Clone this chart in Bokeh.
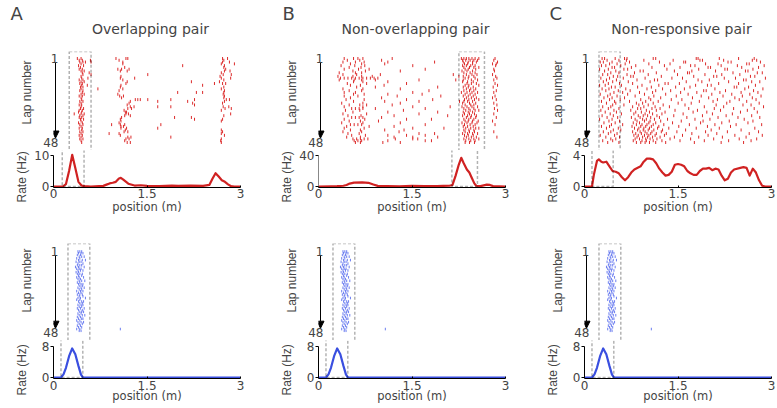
import numpy as np
from bokeh.plotting import figure
from bokeh.models import (Range1d, LinearAxis, FixedTicker, BoxAnnotation, Arrow,
                          NormalHead, Title, NumeralTickFormatter)
from bokeh.layouts import row, column
from bokeh.embed import file_html
from bokeh.resources import INLINE

# ---------------------------------------------------------------- data
N_LAPS = 48
TRACK_M = 3.0
lap_ticks = [1, 48]
x_ticks = [0, 1.5, 3]

panel_letters = ["A", "B", "C"]
panel_titles = ["Overlapping pair", "Non-overlapping pair", "Non-responsive pair"]
top_rate_max = [10, 40, 4]
bottom_rate_max = 8
top_windows = [(0.14, 0.49), (2.14, 2.55), (0.12, 0.46)]
bottom_window = (0.12, 0.47)

# rate maps: position (cm) and firing rate (Hz)
rate_pos_A = [0, 15, 20, 25, 30, 35, 40, 45, 50, 60, 80, 85, 90, 95, 100, 105, 108, 112, 120, 130,
              140, 150, 170, 190, 200, 220, 240, 250, 255, 260, 265, 270, 275, 280, 285, 290, 300]
rate_A = [0, 0, 0.8, 5.0, 10.2, 6.0, 1.5, 0.3, 0.1, 0, 0.2, 0.6, 1.0, 1.2, 1.5, 2.6, 2.8, 2.2, 0.9, 0.3,
          0.4, 0.2, 0.1, 0.3, 0.2, 0.3, 0.2, 0.5, 2.5, 4.3, 3.2, 2.0, 1.5, 0.7, 0.1, 0, 0]
rate_pos_B = [0, 20, 30, 40, 45, 50, 57, 70, 80, 88, 95, 110, 130, 150, 170, 190, 200, 210, 215, 220,
              225, 229, 233, 238, 242, 246, 250, 253, 260, 270, 275, 280, 290, 300]
rate_B = [0, 0.2, 0.4, 1.0, 2.0, 3.8, 5.0, 5.2, 4.8, 2.5, 0.8, 0.5, 0.3, 0.8, 0.5, 0.5, 0.8, 1.0, 2.0, 14,
          28, 37, 30, 22, 18, 11, 4, 1, 0.5, 2.5, 2.0, 0.5, 0.3, 0]
rate_pos_C = [0, 12, 15, 20, 23, 27, 30, 35, 40, 45, 50, 55, 60, 65, 70, 75, 80, 90, 95, 100,
              105, 110, 115, 120, 125, 130, 135, 140, 145, 150, 155, 160, 165, 170, 175, 180, 185, 190, 195, 200,
              205, 210, 215, 220, 225, 230, 235, 240, 250, 255, 260, 265, 270, 275, 280, 285, 290, 300]
rate_C = [0, 0, 1.5, 3.3, 3.5, 3.2, 3.1, 3.2, 2.6, 2.0, 1.9, 1.7, 1.2, 0.8, 1.2, 1.8, 2.2, 2.6, 3.2, 3.6,
          3.6, 3.5, 3.0, 2.3, 1.8, 1.4, 1.5, 1.9, 2.8, 2.9, 2.8, 2.6, 2.0, 1.7, 1.5, 1.5, 2.0, 2.3, 2.3, 2.4,
          2.1, 2.3, 2.2, 1.4, 0.8, 1.0, 1.8, 2.2, 2.4, 2.5, 2.4, 1.4, 2.3, 1.8, 0.8, 0.1, 0, 0]
rate_pos_ref = [0, 12, 16, 20, 25, 30, 35, 40, 44, 47, 300]
rate_ref = [0, 0, 0.8, 2.5, 5.5, 7.5, 6.0, 3.0, 0.8, 0, 0]

# spike positions (cm) on each lap, lap 1 first
spikes_A = [
    [27, 33, 89, 105, 108, 260, 268], [30, 35, 48, 94, 262], [31, 36, 40, 49, 100, 260, 271],
    [33, 100, 258, 279], [29, 37, 196, 263], [32, 103, 262], [30, 35, 92, 98, 110, 265],
    [33, 38, 96, 107, 263, 272], [35, 46, 258], [36, 49, 140, 261, 274], [33, 97, 256],
    [34, 44, 96, 119, 258, 273], [30, 36, 100, 262], [33, 38, 107, 210, 255],
    [31, 35, 105, 247, 260, 265], [34, 43, 97, 228], [32, 36, 96, 262], [33, 60, 100, 258],
    [31, 36, 94, 263], [35, 188, 218, 228, 262], [33, 38, 92, 261], [30, 35, 95, 101, 263],
    [33, 98, 262], [34, 120, 124, 128, 140, 177, 215, 266, 271], [31, 36, 112, 156, 204, 263],
    [33, 110, 212, 260], [30, 34, 107, 215], [33, 112, 118, 156, 177, 261, 270],
    [32, 37, 108, 114, 264, 274], [30, 35, 102, 258], [29, 34, 104, 106], [22, 33, 38, 105, 109, 273],
    [31, 36, 103, 112, 262], [30, 34, 98, 183, 210], [32, 37, 96, 215, 260], [33, 97, 258],
    [29, 35, 94], [31, 36, 82, 96, 103, 161], [33, 97, 101], [30, 35, 97, 106, 156],
    [34, 104, 258], [31, 36, 102, 108, 260], [33, 78, 94, 258], [30, 35, 96, 263],
    [33, 108, 113, 177], [31, 36, 105, 110, 258], [33, 103, 257], [34, 107, 112, 258],
]
spikes_B = [
    [30, 45, 52, 60, 107, 218, 222, 226, 230, 235, 240, 246, 272],
    [35, 55, 90, 220, 225, 232, 238, 244, 270],
    [28, 48, 62, 100, 175, 221, 229, 236, 242, 276],
    [40, 58, 95, 223, 228, 236, 268, 274],
    [25, 47, 63, 140, 220, 226, 233, 240, 273],
    [38, 57, 222, 231, 238, 246],
    [30, 53, 70, 160, 224, 229, 241, 270],
    [44, 64, 120, 219, 227, 236, 271],
    [22, 48, 58, 222, 232, 240],
    [28, 50, 88, 205, 226, 235, 243, 268],
    [20, 44, 58, 75, 214, 221, 230, 238, 273],
    [24, 30, 36, 42, 48, 54, 60, 66, 72, 78, 84, 224, 229, 240, 275],
    [22, 46, 58, 80, 150, 209, 221, 234, 244, 270],
    [45, 60, 100, 220, 228, 237],
    [35, 66, 130, 227, 234, 242, 272],
    [40, 56, 94, 224, 230, 246, 276],
    [50, 80, 180, 221, 229, 237, 269],
    [28, 60, 120, 226, 233, 241],
    [38, 58, 166, 222, 231, 238, 274],
    [30, 48, 140, 218, 227, 235, 244, 270],
    [45, 62, 100, 155, 224, 232, 240],
    [30, 52, 115, 185, 221, 229, 237, 272],
    [40, 90, 226, 234, 242, 268],
    [33, 62, 130, 172, 223, 230, 239, 246, 274],
    [45, 95, 150, 215, 222, 228, 236],
    [26, 60, 120, 220, 231, 241, 270],
    [38, 55, 66, 107, 224, 233, 238, 275],
    [30, 60, 140, 200, 219, 227, 235, 244],
    [42, 48, 54, 60, 80, 160, 222, 230, 238, 271],
    [32, 55, 125, 225, 232, 240, 246, 276],
    [44, 100, 180, 221, 229, 236],
    [28, 66, 150, 223, 231, 239, 270],
    [36, 57, 110, 196, 220, 228, 234, 242],
    [42, 48, 54, 60, 90, 226, 233, 241, 274],
    [30, 63, 130, 170, 222, 230, 238],
    [38, 56, 85, 224, 229, 236, 245, 268],
    [26, 60, 120, 219, 227, 235, 243],
    [40, 46, 52, 58, 160, 223, 232, 240, 272],
    [34, 70, 110, 221, 228, 237],
    [30, 62, 140, 190, 225, 233, 241, 246],
    [40, 56, 95, 126, 222, 230, 238],
    [28, 58, 118, 224, 231, 239, 270],
    [36, 54, 150, 175, 220, 228, 236, 244],
    [42, 64, 100, 130, 160, 223, 229, 237],
    [34, 56, 110, 140, 180, 226, 234, 242, 275],
    [44, 50, 56, 62, 68, 112, 140, 148, 222, 230, 238, 246],
    [46, 52, 58, 100, 160, 170, 225, 233, 240],
    [48, 56, 92, 120, 224, 231, 239],
]
spikes_C = [
    [17, 21, 38, 53, 57, 99, 103, 168, 171, 205, 236, 261],
    [25, 44, 56, 84, 131, 174, 178, 212, 258, 265],
    [14, 19, 33, 61, 109, 148, 151, 219, 224, 271],
    [29, 41, 54, 92, 126, 183, 203, 249, 253],
    [16, 23, 47, 71, 117, 159, 166, 208, 234, 277],
    [33, 37, 64, 97, 142, 187, 191, 241, 268],
    [13, 27, 52, 58, 121, 172, 214, 218, 259],
    [21, 39, 78, 83, 133, 161, 199, 247, 251],
    [31, 44, 69, 104, 154, 157, 227, 266, 274],
    [18, 26, 57, 91, 138, 182, 209, 238],
    [35, 42, 63, 67, 112, 164, 196, 201, 255, 262],
    [15, 29, 51, 86, 129, 146, 213, 231, 279],
    [24, 40, 73, 101, 106, 171, 189, 244, 248],
    [19, 34, 59, 94, 152, 177, 220, 257, 270],
    [27, 45, 66, 118, 123, 141, 204, 236],
    [13, 22, 48, 81, 108, 167, 186, 192, 263],
    [32, 38, 74, 96, 135, 158, 229, 233, 252],
    [17, 28, 55, 89, 114, 149, 198, 246, 275],
    [23, 43, 62, 103, 127, 180, 184, 215, 260],
    [36, 50, 77, 98, 143, 169, 206, 240, 267],
    [14, 30, 58, 85, 119, 155, 193, 225, 254],
    [26, 41, 70, 100, 136, 176, 211, 242, 272],
    [20, 33, 53, 92, 111, 162, 188, 230, 258],
    [29, 46, 79, 95, 128, 145, 202, 237, 264],
    [16, 37, 61, 87, 107, 173, 195, 222, 249],
    [24, 39, 72, 82, 99, 139, 160, 217, 269],
    [34, 52, 76, 91, 115, 150, 200, 243, 256],
    [18, 31, 66, 84, 102, 125, 181, 212, 276],
    [27, 44, 74, 79, 97, 110, 156, 197, 228, 261],
    [15, 36, 63, 88, 104, 134, 170, 207, 250],
    [22, 40, 71, 80, 93, 118, 163, 185, 239, 266],
    [30, 48, 68, 86, 98, 113, 147, 194, 226],
    [17, 35, 75, 83, 90, 105, 132, 178, 216, 257],
    [25, 42, 64, 78, 95, 109, 153, 203, 235, 270],
    [13, 33, 70, 82, 88, 101, 122, 166, 190, 245],
    [28, 45, 73, 85, 94, 111, 144, 179, 221, 259],
    [20, 38, 67, 77, 92, 103, 130, 175, 209, 251],
    [32, 50, 72, 81, 89, 99, 116, 157, 198, 232, 273],
    [16, 29, 65, 79, 87, 96, 108, 140, 186, 223],
    [24, 43, 69, 76, 84, 93, 106, 124, 168, 205, 262],
    [35, 47, 74, 83, 91, 100, 114, 151, 192, 240],
    [19, 31, 66, 78, 86, 97, 112, 137, 183, 218, 268],
    [27, 41, 71, 80, 89, 95, 104, 120, 161, 201, 253],
    [14, 37, 68, 75, 85, 92, 102, 117, 146, 187, 230, 274],
    [23, 45, 73, 82, 90, 98, 110, 133, 172, 210, 248],
    [31, 39, 70, 77, 87, 94, 105, 126, 159, 196, 237, 265],
    [18, 34, 67, 81, 88, 99, 113, 142, 181, 220, 256],
    [26, 44, 72, 79, 86, 93, 103, 119, 165, 208, 244],
]
spikes_ref = [
    [28, 31, 34], [29, 33, 36], [27, 32], [30, 34, 38], [26, 31], [29, 35, 40], [25, 30, 33], [28, 36],
    [27, 31, 34], [24, 29, 38], [26, 30, 33], [28, 32, 36], [25, 29], [27, 31, 35], [29, 34], [26, 30, 37],
    [28, 32], [30, 34, 39], [27, 31], [29, 33, 36], [31, 35], [28, 33, 38], [30, 34], [26, 32, 36],
    [29, 33], [27, 31, 35], [30, 36], [28, 32, 40], [26, 31], [29, 34, 37], [31, 35], [28, 33, 36],
    [30, 34], [27, 32, 38], [29, 35], [31, 34, 37], [28, 33], [30, 35, 39], [27, 32], [29, 34, 36],
    [26, 31], [28, 33, 37], [30, 35], [27, 32], [29, 34], [26, 31, 96], [30, 33], [],
]

# ---------------------------------------------------------------- style / layout
FONT = "DejaVu Sans"
YLAB_FONT = "Liberation Sans"
RED_SPIKE, RED_LINE = "#dc2a2a", "#d02222"
BLUE_SPIKE, BLUE_LINE = "#5a6eee", "#3a4fe0"
BOX_STYLE = dict(fill_alpha=0, fill_color=None, line_color="black", line_dash="3 2", line_width=1.5)
FRAME_W = 187
PX_PER_M = FRAME_W / TRACK_M
LAP_PAD = 7          # raster frame reaches a few px left of 0 m (room for the arrow)
LEFT_BORDER = 53
RIGHT_BORDERS = [25, 26, 6]
LETTER_OFFSETS = [-43, -36, -35]

TOP_GEOM = dict(r_top=51, r_h=99, lap1=7, lapN=91, q_h=37, rate0=36, ratemax=5, q_bottom=30,
                xl_standoff=1, xal_standoff=-1, lapname_offset=9, ratename_offset=-15,
                spike_w=1.0, spike_size=3)
BOT_GEOM = dict(r_top=26, r_h=97, lap1=8, lapN=89, q_h=38, rate0=37, ratemax=6, q_bottom=30,
                xl_standoff=2, xal_standoff=-4, lapname_offset=5, ratename_offset=-17,
                spike_w=0.9, spike_size=2.6)


def text_kw(prefix, font, size):
    return {prefix + "_text_font": font, prefix + "_text_font_size": size,
            prefix + "_text_font_style": "normal"}


def title_kw(font, size):
    return {"text_font": font, "text_font_size": size, "text_font_style": "normal"}


def make_pair(spikes, rate_pos, rate, ymax, window, spike_color, line_color, g, rb,
              letter=None, title=None, letter_offset=0, axis_color="black"):
    # ---- raster (laps) figure
    ppl = (g["lapN"] - g["lap1"]) / (N_LAPS - 1)
    lap_top = 1 - g["lap1"] / ppl
    lap_bottom = N_LAPS + (g["r_h"] - g["lapN"]) / ppl
    r = figure(frame_width=FRAME_W + LAP_PAD, frame_height=g["r_h"],
               x_range=Range1d(-LAP_PAD / PX_PER_M, TRACK_M),
               y_range=Range1d(start=lap_bottom, end=lap_top),
               x_axis_location=None, y_axis_location=None, title=None,
               toolbar_location=None, output_backend="svg",
               min_border_left=LEFT_BORDER - LAP_PAD, min_border_right=rb,
               min_border_top=g["r_top"], min_border_bottom=0)
    r.outline_line_color = None
    r.xgrid.visible = False
    r.ygrid.visible = False
    xs = [c / 100 for lst in spikes for c in lst]
    ys = [lap for lap, lst in enumerate(spikes, start=1) for _ in lst]
    r.scatter(xs, ys, marker="dash", angle=np.pi / 2, size=g["spike_size"], line_color=spike_color,
              line_width=g["spike_w"])
    r.add_layout(BoxAnnotation(left=window[0], right=window[1], bottom=lap_bottom + 10, **BOX_STYLE))
    laxis = LinearAxis(ticker=FixedTicker(ticks=lap_ticks), axis_line_color=None,
                       major_tick_line_color=None, major_tick_in=0, major_tick_out=0,
                       major_label_standoff=-5, **text_kw("major_label", FONT, "12px"))
    r.add_layout(laxis, "left")
    r.add_layout(Title(text="Lap number", align="right", offset=g["lapname_offset"], standoff=14,
                       **title_kw(YLAB_FONT, "12px")), "left")
    r.add_layout(Arrow(end=NormalHead(size=7, line_color="black", fill_color="black", line_width=1),
                       x_start=-0.08, x_end=-0.08, y_start=1 + 2.5, y_end=N_LAPS - 2.5,
                       line_color="black", line_width=1))
    if title:
        tax = LinearAxis(ticker=FixedTicker(ticks=[TRACK_M / 2]), axis_line_color=None,
                         major_tick_line_color=None, major_tick_in=0, major_tick_out=0,
                         major_label_standoff=0, major_label_text_color=None,
                         axis_label=title, axis_label_standoff=15,
                         **text_kw("axis_label", FONT, "14px"))
        r.add_layout(tax, "above")
    if letter:
        r.add_layout(Title(text=letter, align="left", offset=letter_offset, standoff=-13,
                           **title_kw(FONT, "18px")), "above")

    # ---- rate figure
    ppu = (g["rate0"] - g["ratemax"]) / ymax
    q = figure(frame_width=FRAME_W, frame_height=g["q_h"],
               x_range=Range1d(0, TRACK_M),
               y_range=Range1d(-(g["q_h"] - g["rate0"]) / ppu, g["rate0"] / ppu),
               x_axis_location=None, y_axis_location=None, title=None,
               toolbar_location=None, output_backend="svg",
               min_border_left=LEFT_BORDER, min_border_right=rb,
               min_border_top=0, min_border_bottom=g["q_bottom"])
    q.outline_line_color = None
    q.xgrid.visible = False
    q.ygrid.visible = False
    q.line([c / 100 for c in rate_pos], rate, line_color=line_color, line_width=2.2,
           line_join="round")
    q.add_layout(BoxAnnotation(left=window[0], right=window[1], bottom=0, top=ymax * 10, **BOX_STYLE))
    xaxis = LinearAxis(ticker=FixedTicker(ticks=x_ticks), formatter=NumeralTickFormatter(format="0.[0]"),
                       bounds=(0, TRACK_M), axis_label="position (m)",
                       major_tick_in=2, major_tick_out=0,
                       major_label_standoff=g["xl_standoff"], axis_label_standoff=g["xal_standoff"],
                       **text_kw("major_label", FONT, "12px"), **text_kw("axis_label", FONT, "11.5px"))
    q.add_layout(xaxis, "below")
    nchar = len(str(ymax))
    raxis = LinearAxis(ticker=FixedTicker(ticks=[0, ymax]), bounds=(0, ymax),
                       axis_line_color=axis_color, major_tick_in=0, major_tick_out=3,
                       major_label_standoff=1, **text_kw("major_label", FONT, "12px"))
    q.add_layout(raxis, "left")
    q.add_layout(Title(text="Rate (Hz)", align="left", offset=g["ratename_offset"],
                       standoff=6 + 14 * (2 - nchar), **title_kw(YLAB_FONT, "12px")), "left")
    return r, q


top_data = [(spikes_A, rate_pos_A, rate_A), (spikes_B, rate_pos_B, rate_B), (spikes_C, rate_pos_C, rate_C)]
cols = []
for i in range(3):
    sp, rp, rt = top_data[i]
    rt_fig, qt_fig = make_pair(sp, rp, rt, top_rate_max[i], top_windows[i], RED_SPIKE, RED_LINE,
                               TOP_GEOM, RIGHT_BORDERS[i], letter=panel_letters[i],
                               title=panel_titles[i], letter_offset=LETTER_OFFSETS[i],
                               axis_color="#888888" if i == 1 else "black")
    rb_fig, qb_fig = make_pair(spikes_ref, rate_pos_ref, rate_ref, bottom_rate_max, bottom_window,
                               BLUE_SPIKE, BLUE_LINE, BOT_GEOM, RIGHT_BORDERS[i])
    cols.append(column(rt_fig, qt_fig, rb_fig, qb_fig))

layout = row(*cols)
open("out.html", "w").write(file_html(layout, INLINE))
